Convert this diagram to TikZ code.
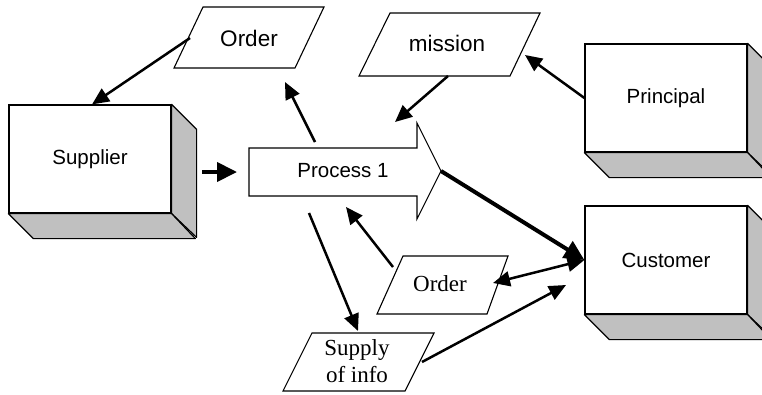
\documentclass[tikz,border=0pt]{standalone}
\usepackage{fontspec}
\setmainfont{Liberation Sans}
\newfontfamily\seriffont{Liberation Serif}
\usetikzlibrary{arrows.meta}

\definecolor{boxgray}{HTML}{C0C0C0}

% shaded sides of a block whose front face is the node #1
\newcommand\blocksides[1]{%
  \filldraw[sideface] (#1.north east) -- ++(25,25) -- ++(0,108) -- (#1.south east) -- cycle;
  \filldraw[sideface] (#1.south west) -- ++(25,25) -- ++(162,0) -- (#1.south east) -- cycle;
}

\begin{document}
\begin{tikzpicture}[x=1pt,y=-1pt,
  frontface/.style={draw=black, line width=1.2pt, fill=white,
    minimum width=162pt, minimum height=108pt, inner sep=0pt,
    font=\fontsize{20.5}{24}\selectfont},
  sideface/.style={draw=black, line width=1.2pt, fill=boxgray, line join=round},
  slantbox/.style={draw=black, line width=1.1pt, fill=white, line join=miter},
  sanslabel/.style={inner sep=0pt, font=\fontsize{22.5}{26}\selectfont},
  seriflabel/.style={inner sep=0pt, align=center,
    font=\seriffont\fontsize{23}{26.5}\selectfont},
  flow/.style={line width=2.5pt, -{Triangle[length=17pt,width=15pt]}},
  twoway/.style={line width=2.5pt, {Triangle[length=17pt,width=15pt]}-{Triangle[length=17pt,width=15pt]}},
  boldflow/.style={line width=4pt, -{Triangle[length=20pt,width=19pt]}}
]
\useasboundingbox (0,0) rectangle (762,394);
\clip (0,0) rectangle (762,394);

% three-dimensional blocks
\node[frontface] (supplier) at (90,159) {Supplier};
\blocksides{supplier}
\node[frontface] (principal) at (666,98) {Principal};
\blocksides{principal}
\node[frontface] (customer) at (666,260) {Customer};
\blocksides{customer}

% process arrow
\draw[slantbox] (249,148) -- (417,148) -- (417,123) -- (441,171) -- (417,219)
  -- (417,196) -- (249,196) -- cycle;
\node[inner sep=0pt, font=\fontsize{20.5}{24}\selectfont] (process) at (343,171) {Process 1};
\coordinate (proctip) at (441,171);

% slanted data boxes
\draw[slantbox] (203,7) -- (324,7) -- (295,68) -- (174,68) -- cycle;
\node[sanslabel] (ordertop) at (249,38) {Order};

\draw[slantbox] (390,13) -- (540,13) -- (510,76) -- (359,76) -- cycle;
\node[sanslabel] (mission) at (447,43) {mission};

\draw[slantbox] (403,256) -- (508,256) -- (487,314) -- (377,314) -- cycle;
\node[seriflabel] (orderlow) at (440,284) {Order};

\draw[slantbox] (312,333) -- (434,333) -- (405,391) -- (283,391) -- cycle;
\node[seriflabel] (supply) at (357,361) {Supply\\of info};

% connector ends
\coordinate (ordertop-w) at (190,38);
\coordinate (ordertop-s) at (285,82);
\coordinate (mission-s) at (448,76);
\coordinate (mission-e) at (525,55);
\coordinate (proc-n) at (315,142);
\coordinate (proc-nr) at (395,122);
\coordinate (proc-s) at (346,207);
\coordinate (proc-sl) at (309,213);
\coordinate (supplier-e) at (202,172);
\coordinate (proc-w) at (237,172);
\coordinate (orderlow-nw) at (393,267);
\coordinate (orderlow-e) at (493,283);
\coordinate (supply-n) at (358,331);
\coordinate (supply-e) at (422,362);
\coordinate (customer-sw) at (566,285);

% connectors
\draw[flow] (ordertop-w) -- ([xshift=2pt]supplier.north);
\draw[boldflow] (supplier-e) -- (proc-w);
\draw[flow] (proc-n) -- (ordertop-s);
\draw[flow] (mission-s) -- (proc-nr);
\draw[flow] (principal.west) -- (mission-e);
\draw[boldflow] (proctip) -- (customer.west);
\draw[twoway] (orderlow-e) -- (customer.west);
\draw[flow] (orderlow-nw) -- (proc-s);
\draw[flow] (proc-sl) -- (supply-n);
\draw[flow] (supply-e) -- (customer-sw);
\end{tikzpicture}
\end{document}
